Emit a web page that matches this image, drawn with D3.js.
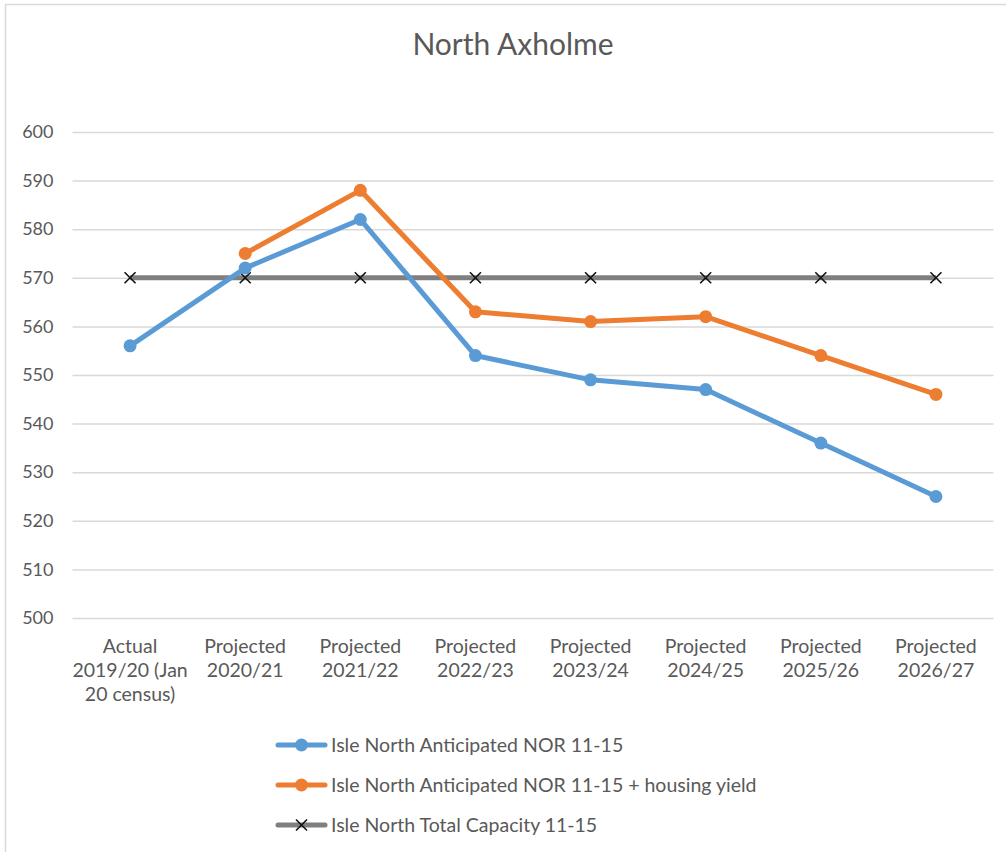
<!DOCTYPE html>
<html>
<head>
<meta charset="utf-8">
<script src="https://cdn.jsdelivr.net/npm/d3@7"></script>
<style>
  html, body { margin: 0; padding: 0; background: #fff; }
  svg { display: block; }
  text { font-family: Lato, "Open Sans", sans-serif; fill: #595959; }
</style>
</head>
<body>
<svg id="chart" width="1006" height="852"></svg>
<script>
// Year categories (multi-line labels)
const categories = [
  ["Actual", "2019/20 (Jan", "20 census)"],
  ["Projected", "2020/21"],
  ["Projected", "2021/22"],
  ["Projected", "2022/23"],
  ["Projected", "2023/24"],
  ["Projected", "2024/25"],
  ["Projected", "2025/26"],
  ["Projected", "2026/27"]
];
const anticipated = [556, 572, 582, 554, 549, 547, 536, 525];
const withHousing = [null, 575, 588, 563, 561, 562, 554, 546];
const capacity = [570, 570, 570, 570, 570, 570, 570, 570];
const yTicks = [500, 510, 520, 530, 540, 550, 560, 570, 580, 590, 600];
const seriesNames = [
  "Isle North Anticipated NOR 11-15",
  "Isle North Anticipated NOR 11-15 + housing yield",
  "Isle North Total Capacity 11-15"
];

const svg = d3.select("#chart");
const plot = { left: 72.5, right: 993.5, top: 132, bottom: 618 };

// Chart area frame
svg.append("path")
  .attr("d", "M5.5,852 V4.5 H1006")
  .attr("fill", "none").attr("stroke", "#d9d9d9").attr("stroke-width", 1.5);

svg.append("text")
  .attr("x", 513).attr("y", 55)
  .attr("text-anchor", "middle")
  .style("font-size", "30px")
  .text("North Axholme");

const x = d3.scaleBand()
  .domain(d3.range(categories.length))
  .range([plot.left, plot.right]);
const y = d3.scaleLinear().domain([500, 600]).range([plot.bottom, plot.top]);
const cx = i => x(i) + x.bandwidth() / 2;

// Gridlines and y tick labels
const yAxis = d3.axisLeft(y).tickValues(yTicks).tickSize(-(plot.right - plot.left)).tickPadding(19);
const gy = svg.append("g").attr("transform", `translate(${plot.left},0)`).call(yAxis);
gy.select(".domain").remove();
gy.selectAll(".tick line").attr("stroke", "#d9d9d9").attr("stroke-width", 1.5);
gy.selectAll(".tick text")
  .attr("fill", "#595959")
  .style("font-size", "18px")
  .style("font-family", "Lato, 'Open Sans', sans-serif");

// Category labels
const xl = svg.append("g");
categories.forEach((lines, i) => {
  const t = xl.append("text")
    .attr("x", cx(i)).attr("y", 653)
    .attr("text-anchor", "middle")
    .style("font-size", "19.5px");
  lines.forEach((ln, k) => {
    t.append("tspan").attr("x", cx(i)).attr("dy", k === 0 ? 0 : 24).text(ln);
  });
});

const line = d3.line()
  .defined(d => d != null)
  .x((d, i) => cx(i))
  .y(d => y(d));

const colors = ["#5B9BD5", "#ED7D31", "#7F7F7F"];

// Capacity line with cross markers
svg.append("path").datum(capacity)
  .attr("d", line).attr("fill", "none")
  .attr("stroke", colors[2]).attr("stroke-width", 5);

function cross(g, px, py) {
  const s = 5.5;
  g.append("path")
    .attr("d", `M${px - s},${py - s}L${px + s},${py + s}M${px - s},${py + s}L${px + s},${py - s}`)
    .attr("stroke", "#111").attr("stroke-width", 1.6).attr("fill", "none");
}
const gc = svg.append("g");
capacity.forEach((v, i) => cross(gc, cx(i), y(v)));

// Anticipated series
[[anticipated, colors[0]], [withHousing, colors[1]]].forEach(([data, c]) => {
  svg.append("path").datum(data)
    .attr("d", line).attr("fill", "none")
    .attr("stroke", c).attr("stroke-width", 5)
    .attr("stroke-linejoin", "round");
  svg.append("g").selectAll("circle")
    .data(data.map((v, i) => ({ v, i })).filter(d => d.v != null))
    .join("circle")
    .attr("cx", d => cx(d.i)).attr("cy", d => y(d.v))
    .attr("r", 6.5).attr("fill", c);
});

// Legend
const legend = svg.append("g");
const rowsY = [745, 785, 825];
seriesNames.forEach((name, k) => {
  const ly = rowsY[k];
  legend.append("line")
    .attr("x1", 278).attr("x2", 325).attr("y1", ly).attr("y2", ly)
    .attr("stroke", colors[k]).attr("stroke-width", 5).attr("stroke-linecap", "round");
  if (k < 2) {
    legend.append("circle").attr("cx", 301.5).attr("cy", ly).attr("r", 6.5).attr("fill", colors[k]);
  } else {
    cross(legend, 301.5, ly);
  }
  legend.append("text")
    .attr("x", 331).attr("y", ly + 7)
    .style("font-size", "19.5px")
    .text(name);
});
</script>
</body>
</html>
